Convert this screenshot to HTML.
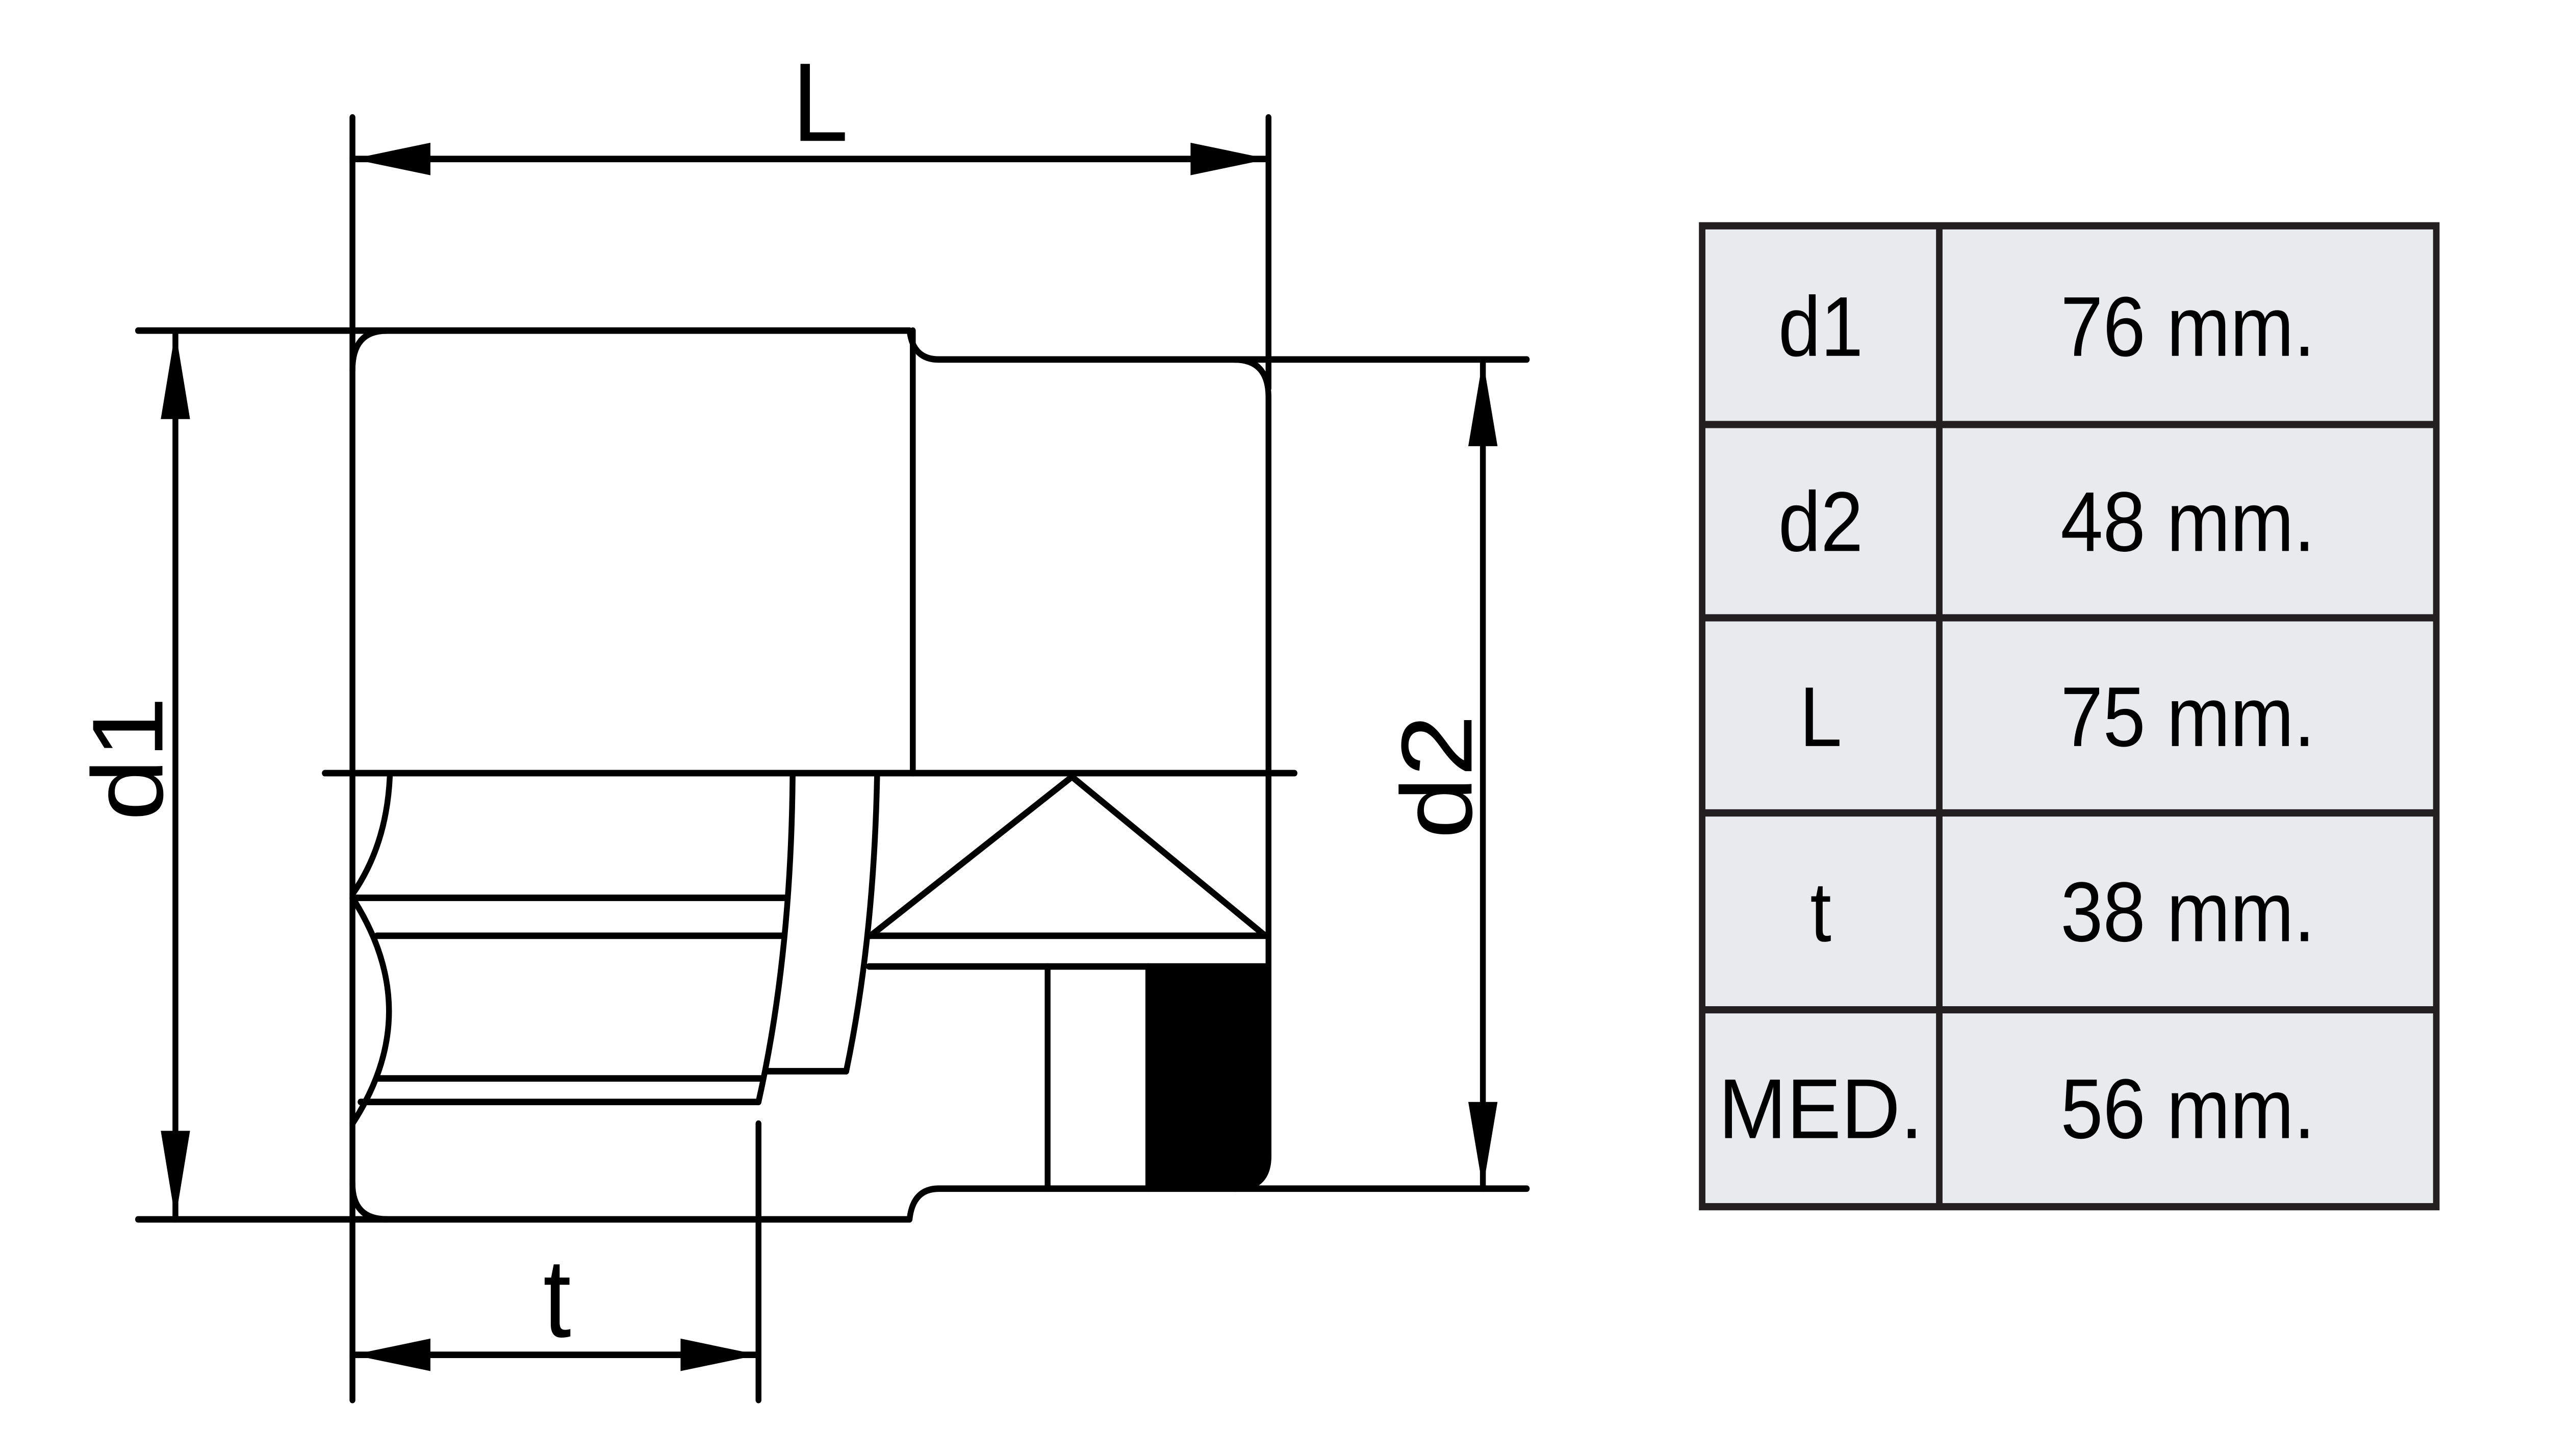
<!DOCTYPE html>
<html><head><meta charset="utf-8"><style>
html,body{margin:0;padding:0;background:#fff;width:100%;height:100%;overflow:hidden;}
svg{display:block;width:100vw;height:100vh;}
text{font-family:"Liberation Sans",Arial,sans-serif;fill:#000;}
</style></head><body>
<svg viewBox="0 0 1570 806" preserveAspectRatio="none" xmlns="http://www.w3.org/2000/svg">
<g fill="none" stroke="#000" stroke-width="3.6" stroke-linecap="round" stroke-linejoin="round">
<line x1="217" y1="65" x2="217" y2="775"/>
<line x1="781" y1="65" x2="781" y2="215"/>
<line x1="217" y1="88" x2="781" y2="88"/>
<line x1="85" y1="183" x2="238" y2="183"/>
<line x1="85" y1="675" x2="238" y2="675"/>
<line x1="108" y1="183" x2="108" y2="675"/>
<path d="M217,205 Q217,183 238,183 L560,183 Q562,199 578,199 L760,199 Q781,199 781,220 L781,640 Q781,658 760,658 L578,658 Q562,658 560,675 L238,675 Q217,675 217,655"/>
<line x1="562" y1="183" x2="562" y2="428"/>
<line x1="200" y1="428" x2="797" y2="428"/>
<line x1="760" y1="199" x2="940" y2="199"/>
<line x1="760" y1="658" x2="940" y2="658"/>
<line x1="913" y1="199" x2="913" y2="658"/>
<path d="M240,430 Q238,468 217,495"/>
<path d="M217,497 Q262,560 217,622"/>
<line x1="217" y1="497" x2="485" y2="497"/>
<line x1="232" y1="518" x2="483" y2="518"/>
<line x1="232" y1="597" x2="469" y2="597"/>
<line x1="222" y1="610" x2="467" y2="610"/>
<path d="M488,430 Q487,530 467,610"/>
<path d="M540,430 Q538,520 521,593"/>
<line x1="472" y1="593" x2="521" y2="593"/>
<polyline points="536,518 660,430 779,518"/>
<line x1="536" y1="518" x2="779" y2="518"/>
<line x1="535" y1="535" x2="779" y2="535"/>
<line x1="645" y1="535" x2="645" y2="658"/>
<line x1="707" y1="535" x2="707" y2="658"/>
<line x1="467" y1="622" x2="467" y2="775"/>
<line x1="217" y1="750" x2="467" y2="750"/>
</g>
<path d="M707,535 L781,535 L781,640 Q781,658 763,658 L707,658 Z" fill="#000"/>
<g fill="#000">
<polygon points="217,88 265,79 265,97"/>
<polygon points="781,88 733,79 733,97"/>
<polygon points="108,183 99,232 117,232"/>
<polygon points="108,675 99,626 117,626"/>
<polygon points="913,199 904,247 922,247"/>
<polygon points="913,658 904,610 922,610"/>
<polygon points="217,750 265,741 265,759"/>
<polygon points="467,750 419,741 419,759"/>
</g>
<text x="505" y="78" font-size="62" text-anchor="middle">L</text>
<text x="343" y="740" font-size="62" text-anchor="middle">t</text>
<text transform="translate(100,420) rotate(-90)" font-size="62" text-anchor="middle">d1</text>
<text transform="translate(906,430) rotate(-90)" font-size="62" text-anchor="middle">d2</text>
<rect x="1048" y="125" width="452" height="543" fill="#e9eaec" stroke="#231f20" stroke-width="4"/>
<g stroke="#231f20" stroke-width="4">
<line x1="1194" y1="125" x2="1194" y2="668"/>
<line x1="1048" y1="235" x2="1500" y2="235"/>
<line x1="1048" y1="342" x2="1500" y2="342"/>
<line x1="1048" y1="450" x2="1500" y2="450"/>
<line x1="1048" y1="559" x2="1500" y2="559"/>
</g>
<g font-size="47" text-anchor="middle">
<text x="1121" y="197">d1</text><text x="1347" y="197">76 mm.</text>
<text x="1121" y="305">d2</text><text x="1347" y="305">48 mm.</text>
<text x="1121" y="413">L</text><text x="1347" y="413">75 mm.</text>
<text x="1121" y="521">t</text><text x="1347" y="521">38 mm.</text>
<text x="1121" y="630" textLength="126" lengthAdjust="spacingAndGlyphs">MED.</text><text x="1347" y="630">56 mm.</text>
</g>
</svg>
</body></html>
